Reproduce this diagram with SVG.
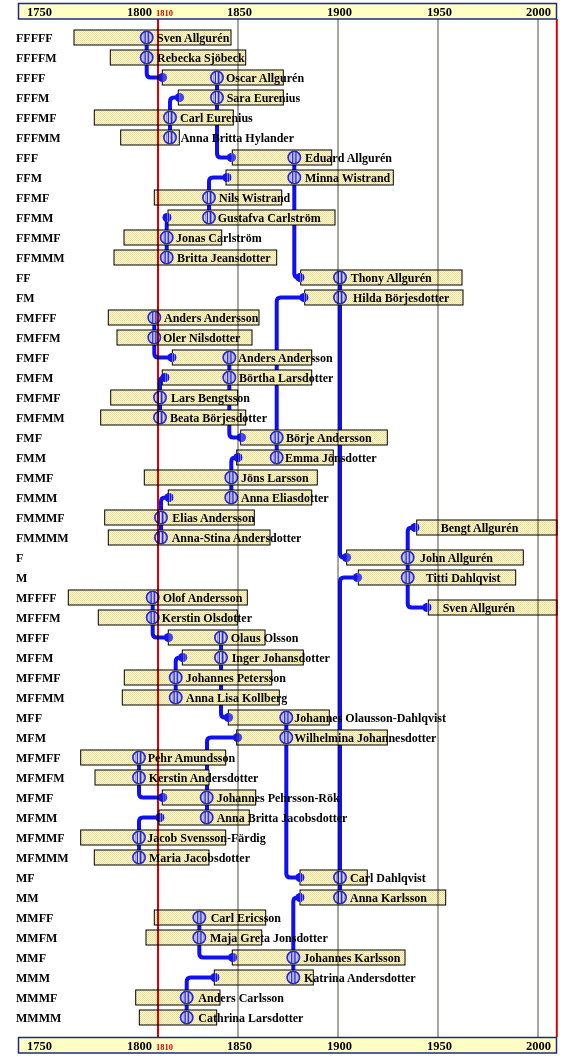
<svg xmlns="http://www.w3.org/2000/svg" width="576" height="1060" viewBox="0 0 576 1060">
<style>
text{font-family:"Liberation Serif","Times New Roman",serif;font-weight:bold;font-size:12px;fill:#000}
.lbl{font-size:12px}
.ax{font-size:12.5px;text-anchor:middle}
.red{fill:#e00000;font-size:8.5px}
.bar{fill:url(#pBar);stroke:#000;stroke-width:1}
.axis{fill:#ffffc4;stroke:#1c2a86;stroke-width:1.5}
.grid{stroke:#8a8a80;stroke-width:1.5;mix-blend-mode:multiply}
.rline{stroke:#e00000;stroke-width:2;mix-blend-mode:multiply}
.con{fill:none;stroke:#1010f4;stroke-width:4;stroke-linejoin:round}
</style>
<defs>
<pattern id="pBar" width="2" height="2" patternUnits="userSpaceOnUse"><rect width="2" height="2" fill="#fffcdc"/><rect width="1" height="1" fill="#eedb8c"/><rect x="1" y="1" width="1" height="1" fill="#f2e09a"/></pattern>
<pattern id="pBlue" width="2" height="2" patternUnits="userSpaceOnUse"><rect width="2" height="2" fill="#ffffff"/><rect width="1" height="1" fill="#3a3ad0"/><rect x="1" y="1" width="1" height="1" fill="#b0b0ee"/></pattern>
<pattern id="pDot" width="2" height="2" patternUnits="userSpaceOnUse"><rect width="2" height="2" fill="#1414ee"/><rect width="1" height="1" fill="#d8d8f4"/></pattern>
<g id="ring"><circle r="6.2" fill="url(#pBlue)" stroke="#2a2ac4" stroke-width="1.6"/><path d="M-1.6,-6 V6 M1.6,-6 V6" stroke="#2a2ac4" stroke-width="1.2"/></g>
<g id="dot"><path d="M0,-4.6 A4.6,4.6 0 0 0 0,4.6 Z" fill="#1414ee"/><path d="M0,-4.6 A4.6,4.6 0 0 1 0,4.6 Z" fill="url(#pDot)"/></g>
</defs>
<rect width="576" height="1060" fill="#fff"/>

<g id="connectors">
<path class="con" d="M146.7,37.5 V73.5 Q146.7,77.5 150.7,77.5 H163"/>
<path class="con" d="M170,137.5 V101.5 Q170,97.5 174,97.5 H179"/>
<path class="con" d="M217,77.5 V153.5 Q217,157.5 221,157.5 H232"/>
<path class="con" d="M209,217.5 V181.5 Q209,177.5 213,177.5 H227"/>
<path class="con" d="M166.7,257.5 V217.5"/>
<path class="con" d="M294.3,157.5 V273.5 Q294.3,277.5 298.3,277.5 H301"/>
<path class="con" d="M276.7,457.5 V301.5 Q276.7,297.5 280.7,297.5 H305"/>
<path class="con" d="M340,277.5 V553.5 Q340,557.5 344,557.5 H347"/>
<path class="con" d="M340,897.5 V581.5 Q340,577.5 344,577.5 H358"/>
<path class="con" d="M416,527.5 H411.7 Q407.7,527.5 407.7,531.5 V603.5 Q407.7,607.5 411.7,607.5 H428"/>
<path class="con" d="M154.3,317.5 V353.5 Q154.3,357.5 158.3,357.5 H172"/>
<path class="con" d="M160,417.5 V381.5 Q160,377.5 164,377.5 H165"/>
<path class="con" d="M229.3,357.5 V433.5 Q229.3,437.5 233.3,437.5 H241"/>
<path class="con" d="M231.3,497.5 V461.5 Q231.3,457.5 235.3,457.5 H238"/>
<path class="con" d="M161,537.5 V501.5 Q161,497.5 165,497.5 H169"/>
<path class="con" d="M152.7,597.5 V633.5 Q152.7,637.5 156.7,637.5 H169"/>
<path class="con" d="M175.7,697.5 V661.5 Q175.7,657.5 179.7,657.5 H183"/>
<path class="con" d="M221,637.5 V713.5 Q221,717.5 225,717.5 H229"/>
<path class="con" d="M207,817.5 V741.5 Q207,737.5 211,737.5 H237"/>
<path class="con" d="M139,757.5 V793.5 Q139,797.5 143,797.5 H163"/>
<path class="con" d="M139,857.5 V821.5 Q139,817.5 143,817.5 H160"/>
<path class="con" d="M286.3,717.5 V873.5 Q286.3,877.5 290.3,877.5 H300"/>
<path class="con" d="M293.3,977.5 V901.5 Q293.3,897.5 297.3,897.5 H300"/>
<path class="con" d="M199.3,917.5 V953.5 Q199.3,957.5 203.3,957.5 H233"/>
<path class="con" d="M186.7,1017.5 V981.5 Q186.7,977.5 190.7,977.5 H215"/>
</g>

<g id="nodes">
<g id="n-FFFFF"><text class="lbl" x="16" y="42">FFFFF</text><rect class="bar" x="74" y="30" width="157" height="15"/><use href="#ring" x="146.7" y="37.5"/><text x="157" y="42">Sven Allgurén</text></g>
<g id="n-FFFFM"><text class="lbl" x="16" y="62">FFFFM</text><rect class="bar" x="110.3" y="50" width="135.4" height="15"/><use href="#ring" x="146.7" y="57.5"/><text x="157" y="62">Rebecka Sjöbeck</text></g>
<g id="n-FFFF"><text class="lbl" x="16" y="82">FFFF</text><rect class="bar" x="162.3" y="70" width="121" height="15"/><use href="#dot" x="162.5" y="77.5"/><use href="#ring" x="217" y="77.5"/><text x="226" y="82">Oscar Allgurén</text></g>
<g id="n-FFFM"><text class="lbl" x="16" y="102">FFFM</text><rect class="bar" x="178.3" y="90" width="105" height="15"/><use href="#dot" x="179.5" y="97.5"/><use href="#ring" x="217" y="97.5"/><text x="226.7" y="102">Sara Eurenius</text></g>
<g id="n-FFFMF"><text class="lbl" x="16" y="122">FFFMF</text><rect class="bar" x="94.3" y="110" width="139" height="15"/><use href="#ring" x="170" y="117.5"/><text x="180" y="122">Carl Eurenius</text></g>
<g id="n-FFFMM"><text class="lbl" x="16" y="142">FFFMM</text><rect class="bar" x="120.7" y="130" width="58.6" height="15"/><use href="#ring" x="170" y="137.5"/><text x="180.7" y="142">Anna Britta Hylander</text></g>
<g id="n-FFF"><text class="lbl" x="16" y="162">FFF</text><rect class="bar" x="232.3" y="150" width="99.4" height="15"/><use href="#dot" x="231.5" y="157.5"/><use href="#ring" x="294.3" y="157.5"/><text x="305" y="162">Eduard Allgurén</text></g>
<g id="n-FFM"><text class="lbl" x="16" y="182">FFM</text><rect class="bar" x="226" y="170" width="167.3" height="15"/><use href="#dot" x="227" y="177.5"/><use href="#ring" x="294.3" y="177.5"/><text x="305" y="182">Minna Wistrand</text></g>
<g id="n-FFMF"><text class="lbl" x="16" y="202">FFMF</text><rect class="bar" x="154.3" y="190" width="127.4" height="15"/><use href="#ring" x="209" y="197.5"/><text x="219" y="202">Nils Wistrand</text></g>
<g id="n-FFMM"><text class="lbl" x="16" y="222">FFMM</text><rect class="bar" x="168" y="210" width="167" height="15"/><use href="#dot" x="167" y="217.5"/><use href="#ring" x="209" y="217.5"/><text x="217.7" y="222">Gustafva Carlström</text></g>
<g id="n-FFMMF"><text class="lbl" x="16" y="242">FFMMF</text><rect class="bar" x="124" y="230" width="97.7" height="15"/><use href="#ring" x="166.7" y="237.5"/><text x="176" y="242">Jonas Carlström</text></g>
<g id="n-FFMMM"><text class="lbl" x="16" y="262">FFMMM</text><rect class="bar" x="114" y="250" width="162.7" height="15"/><use href="#ring" x="166.7" y="257.5"/><text x="177" y="262">Britta Jeansdotter</text></g>
<g id="n-FF"><text class="lbl" x="16" y="282">FF</text><rect class="bar" x="300.7" y="270" width="161.3" height="15"/><use href="#dot" x="300" y="277.5"/><use href="#ring" x="340" y="277.5"/><text x="350.7" y="282">Thony Allgurén</text></g>
<g id="n-FM"><text class="lbl" x="16" y="302">FM</text><rect class="bar" x="304.7" y="290" width="158.3" height="15"/><use href="#dot" x="304" y="297.5"/><use href="#ring" x="340" y="297.5"/><text x="353" y="302">Hilda Börjesdotter</text></g>
<g id="n-FMFFF"><text class="lbl" x="16" y="322">FMFFF</text><rect class="bar" x="108.3" y="310" width="150.7" height="15"/><use href="#ring" x="154.3" y="317.5"/><text x="164" y="322">Anders Andersson</text></g>
<g id="n-FMFFM"><text class="lbl" x="16" y="342">FMFFM</text><rect class="bar" x="117" y="330" width="135" height="15"/><use href="#ring" x="154.3" y="337.5"/><text x="163" y="342">Oler Nilsdotter</text></g>
<g id="n-FMFF"><text class="lbl" x="16" y="362">FMFF</text><rect class="bar" x="172.3" y="350" width="139.4" height="15"/><use href="#dot" x="172" y="357.5"/><use href="#ring" x="229.3" y="357.5"/><text x="238.3" y="362">Anders Andersson</text></g>
<g id="n-FMFM"><text class="lbl" x="16" y="382">FMFM</text><rect class="bar" x="162.3" y="370" width="149.4" height="15"/><use href="#dot" x="165" y="377.5"/><use href="#ring" x="229.3" y="377.5"/><text x="239" y="382">Börtha Larsdotter</text></g>
<g id="n-FMFMF"><text class="lbl" x="16" y="402">FMFMF</text><rect class="bar" x="110.7" y="390" width="127" height="15"/><use href="#ring" x="160" y="397.5"/><text x="171" y="402">Lars Bengtsson</text></g>
<g id="n-FMFMM"><text class="lbl" x="16" y="422">FMFMM</text><rect class="bar" x="100.7" y="410" width="145" height="15"/><use href="#ring" x="160" y="417.5"/><text x="170" y="422">Beata Börjesdotter</text></g>
<g id="n-FMF"><text class="lbl" x="16" y="442">FMF</text><rect class="bar" x="240.7" y="430" width="146.6" height="15"/><use href="#dot" x="241.5" y="437.5"/><use href="#ring" x="276.7" y="437.5"/><text x="286" y="442">Börje Andersson</text></g>
<g id="n-FMM"><text class="lbl" x="16" y="462">FMM</text><rect class="bar" x="236.7" y="450" width="96.6" height="15"/><use href="#dot" x="238" y="457.5"/><use href="#ring" x="276.7" y="457.5"/><text x="285" y="462">Emma Jönsdotter</text></g>
<g id="n-FMMF"><text class="lbl" x="16" y="482">FMMF</text><rect class="bar" x="144.3" y="470" width="173" height="15"/><use href="#ring" x="231.3" y="477.5"/><text x="241" y="482">Jöns Larsson</text></g>
<g id="n-FMMM"><text class="lbl" x="16" y="502">FMMM</text><rect class="bar" x="168.3" y="490" width="143.4" height="15"/><use href="#dot" x="169" y="497.5"/><use href="#ring" x="231.3" y="497.5"/><text x="241" y="502">Anna Eliasdotter</text></g>
<g id="n-FMMMF"><text class="lbl" x="16" y="522">FMMMF</text><rect class="bar" x="104.7" y="510" width="149.6" height="15"/><use href="#ring" x="161" y="517.5"/><text x="172.3" y="522">Elias Andersson</text></g>
<g id="n-FMMMM"><text class="lbl" x="16" y="542">FMMMM</text><rect class="bar" x="108.3" y="530" width="161.7" height="15"/><use href="#ring" x="161" y="537.5"/><text x="171.7" y="542">Anna-Stina Andersdotter</text></g>
<g id="n-Bengt"><rect class="bar" x="416.7" y="520" width="140.3" height="15"/><use href="#dot" x="415" y="527.5"/><text x="440.7" y="532">Bengt Allgurén</text></g>
<g id="n-F"><text class="lbl" x="16" y="562">F</text><rect class="bar" x="346.7" y="550" width="176.6" height="15"/><use href="#dot" x="346.5" y="557.5"/><use href="#ring" x="407.7" y="557.5"/><text x="420" y="562">John Allgurén</text></g>
<g id="n-M"><text class="lbl" x="16" y="582">M</text><rect class="bar" x="358.3" y="570" width="157.4" height="15"/><use href="#dot" x="357.5" y="577.5"/><use href="#ring" x="407.7" y="577.5"/><text x="425.7" y="582">Titti Dahlqvist</text></g>
<g id="n-Sven2"><rect class="bar" x="428.3" y="600" width="128.7" height="15"/><use href="#dot" x="427" y="607.5"/><text x="442.7" y="612">Sven Allgurén</text></g>
<g id="n-MFFFF"><text class="lbl" x="16" y="602">MFFFF</text><rect class="bar" x="68.3" y="590" width="179" height="15"/><use href="#ring" x="152.7" y="597.5"/><text x="162.7" y="602">Olof Andersson</text></g>
<g id="n-MFFFM"><text class="lbl" x="16" y="622">MFFFM</text><rect class="bar" x="98.3" y="610" width="139" height="15"/><use href="#ring" x="152.7" y="617.5"/><text x="161.7" y="622">Kerstin Olsdotter</text></g>
<g id="n-MFFF"><text class="lbl" x="16" y="642">MFFF</text><rect class="bar" x="168.3" y="630" width="96.7" height="15"/><use href="#dot" x="168.5" y="637.5"/><use href="#ring" x="221" y="637.5"/><text x="230.7" y="642">Olaus Olsson</text></g>
<g id="n-MFFM"><text class="lbl" x="16" y="662">MFFM</text><rect class="bar" x="182.3" y="650" width="121" height="15"/><use href="#dot" x="182.7" y="657.5"/><use href="#ring" x="221" y="657.5"/><text x="231.7" y="662">Inger Johansdotter</text></g>
<g id="n-MFFMF"><text class="lbl" x="16" y="682">MFFMF</text><rect class="bar" x="124.3" y="670" width="147.4" height="15"/><use href="#ring" x="175.7" y="677.5"/><text x="185.7" y="682">Johannes Petersson</text></g>
<g id="n-MFFMM"><text class="lbl" x="16" y="702">MFFMM</text><rect class="bar" x="122.3" y="690" width="157" height="15"/><use href="#ring" x="175.7" y="697.5"/><text x="186" y="702">Anna Lisa Kollberg</text></g>
<g id="n-MFF"><text class="lbl" x="16" y="722">MFF</text><rect class="bar" x="228.3" y="710" width="101" height="15"/><use href="#dot" x="228.5" y="717.5"/><use href="#ring" x="286.3" y="717.5"/><text x="294.3" y="722">Johannes Olausson-Dahlqvist</text></g>
<g id="n-MFM"><text class="lbl" x="16" y="742">MFM</text><rect class="bar" x="236.7" y="730" width="150.6" height="15"/><use href="#dot" x="237.5" y="737.5"/><use href="#ring" x="286.3" y="737.5"/><text x="294.3" y="742">Wilhelmina Johannesdotter</text></g>
<g id="n-MFMFF"><text class="lbl" x="16" y="762">MFMFF</text><rect class="bar" x="80.7" y="750" width="145" height="15"/><use href="#ring" x="139" y="757.5"/><text x="147.7" y="762">Pehr Amundsson</text></g>
<g id="n-MFMFM"><text class="lbl" x="16" y="782">MFMFM</text><rect class="bar" x="95" y="770" width="114" height="15"/><use href="#ring" x="139" y="777.5"/><text x="148.7" y="782">Kerstin Andersdotter</text></g>
<g id="n-MFMF"><text class="lbl" x="16" y="802">MFMF</text><rect class="bar" x="162.3" y="790" width="93.4" height="15"/><use href="#dot" x="162.7" y="797.5"/><use href="#ring" x="206.7" y="797.5"/><text x="216.7" y="802">Johannes Pehrsson-Rök</text></g>
<g id="n-MFMM"><text class="lbl" x="16" y="822">MFMM</text><rect class="bar" x="159" y="810" width="90.3" height="15"/><use href="#dot" x="160" y="817.5"/><use href="#ring" x="206.7" y="817.5"/><text x="216.7" y="822">Anna Britta Jacobsdotter</text></g>
<g id="n-MFMMF"><text class="lbl" x="16" y="842">MFMMF</text><rect class="bar" x="80.7" y="830" width="145" height="15"/><use href="#ring" x="139" y="837.5"/><text x="147.3" y="842">Jacob Svensson-Färdig</text></g>
<g id="n-MFMMM"><text class="lbl" x="16" y="862">MFMMM</text><rect class="bar" x="94.3" y="850" width="114.7" height="15"/><use href="#ring" x="139" y="857.5"/><text x="149" y="862">Maria Jacobsdotter</text></g>
<g id="n-MF"><text class="lbl" x="16" y="882">MF</text><rect class="bar" x="300" y="870" width="67.3" height="15"/><use href="#dot" x="300" y="877.5"/><use href="#ring" x="340" y="877.5"/><text x="350" y="882">Carl Dahlqvist</text></g>
<g id="n-MM"><text class="lbl" x="16" y="902">MM</text><rect class="bar" x="300" y="890" width="145.7" height="15"/><use href="#dot" x="300" y="897.5"/><use href="#ring" x="340" y="897.5"/><text x="350" y="902">Anna Karlsson</text></g>
<g id="n-MMFF"><text class="lbl" x="16" y="922">MMFF</text><rect class="bar" x="154.3" y="910" width="111.4" height="15"/><use href="#ring" x="199.3" y="917.5"/><text x="210.7" y="922">Carl Ericsson</text></g>
<g id="n-MMFM"><text class="lbl" x="16" y="942">MMFM</text><rect class="bar" x="146" y="930" width="115.7" height="15"/><use href="#ring" x="199.3" y="937.5"/><text x="210" y="942">Maja Greta Jonsdotter</text></g>
<g id="n-MMF"><text class="lbl" x="16" y="962">MMF</text><rect class="bar" x="232.3" y="950" width="172.7" height="15"/><use href="#dot" x="232.7" y="957.5"/><use href="#ring" x="293.3" y="957.5"/><text x="303.3" y="962">Johannes Karlsson</text></g>
<g id="n-MMM"><text class="lbl" x="16" y="982">MMM</text><rect class="bar" x="214.3" y="970" width="99" height="15"/><use href="#dot" x="215" y="977.5"/><use href="#ring" x="293.3" y="977.5"/><text x="304" y="982">Katrina Andersdotter</text></g>
<g id="n-MMMF"><text class="lbl" x="16" y="1002">MMMF</text><rect class="bar" x="135.7" y="990" width="84.3" height="15"/><use href="#ring" x="186.7" y="997.5"/><text x="198.3" y="1002">Anders Carlsson</text></g>
<g id="n-MMMM"><text class="lbl" x="16" y="1022">MMMM</text><rect class="bar" x="139.3" y="1010" width="77.4" height="15"/><use href="#ring" x="186.7" y="1017.5"/><text x="198.3" y="1022">Cathrina Larsdotter</text></g>
</g>

<g id="gridlines">
<line class="grid" x1="238" y1="19" x2="238" y2="1037"/>
<line class="grid" x1="338" y1="19" x2="338" y2="1037"/>
<line class="grid" x1="438" y1="19" x2="438" y2="1037"/>
<line class="grid" x1="538" y1="19" x2="538" y2="1037"/>
<line class="rline" x1="158" y1="19" x2="158" y2="1037"/>
<line class="rline" x1="556.8" y1="19" x2="556.8" y2="1037"/>
</g>

<g id="axis-top">
<rect class="axis" x="18.5" y="3.5" width="538" height="15.5"/>
<text class="ax" x="39.5" y="16">1750</text>
<text class="ax" x="139.5" y="16">1800</text>
<text class="red" x="156" y="15.5">1810</text>
<text class="ax" x="239.5" y="16">1850</text>
<text class="ax" x="339.5" y="16">1900</text>
<text class="ax" x="439.5" y="16">1950</text>
<text class="ax" x="538.5" y="16">2000</text>
</g>
<g id="axis-bottom">
<rect class="axis" x="18.5" y="1037.5" width="538" height="15.5"/>
<text class="ax" x="39.5" y="1050">1750</text>
<text class="ax" x="139.5" y="1050">1800</text>
<text class="red" x="156" y="1049.5">1810</text>
<text class="ax" x="239.5" y="1050">1850</text>
<text class="ax" x="339.5" y="1050">1900</text>
<text class="ax" x="439.5" y="1050">1950</text>
<text class="ax" x="538.5" y="1050">2000</text>
</g>
</svg>
